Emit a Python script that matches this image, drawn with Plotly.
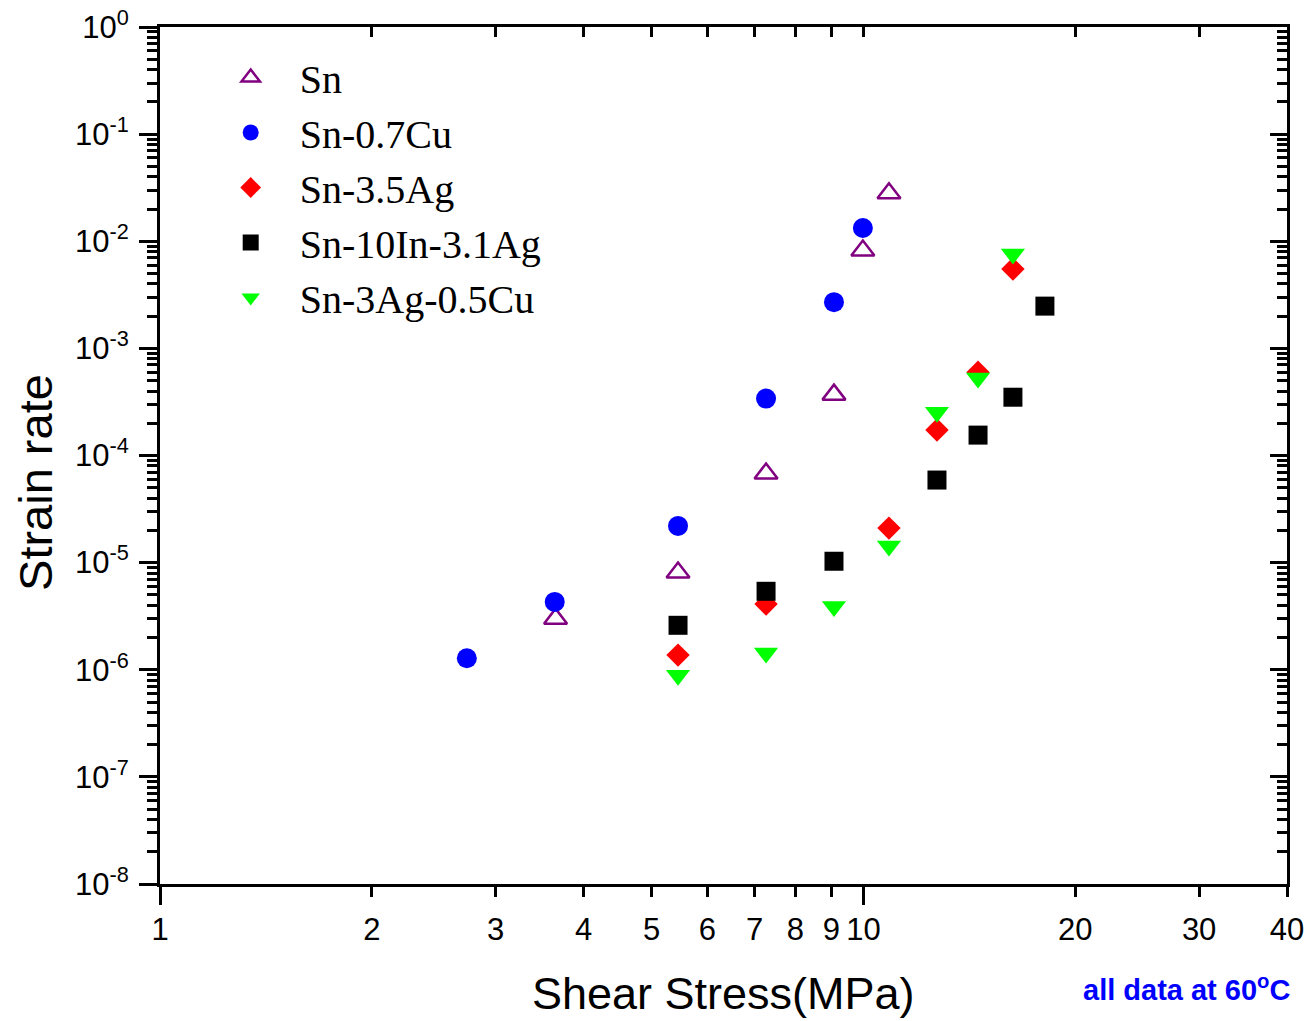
import plotly.graph_objects as go
import math

# ---- data ----
sn_x = [3.65, 5.45, 7.27, 9.08, 9.98, 10.87]
sn_y = [3.0e-6, 8.1e-6, 6.8e-5, 3.7e-4, 8.2e-3, 2.8e-2]

cu_x = [2.73, 3.64, 5.45, 7.27, 9.08, 9.98]
cu_y = [1.28e-6, 4.3e-6, 2.2e-5, 3.4e-4, 2.7e-3, 1.33e-2]

ag_x = [5.45, 7.27, 10.87, 12.72, 14.55, 16.31]
ag_y = [1.37e-6, 4.1e-6, 2.1e-5, 1.73e-4, 6.0e-4, 5.5e-3]

in_x = [5.45, 7.27, 9.08, 12.72, 14.55, 16.31, 18.11]
in_y = [2.6e-6, 5.4e-6, 1.03e-5, 5.9e-5, 1.55e-4, 3.5e-4, 2.48e-3]

sac_x = [5.45, 7.27, 9.08, 10.87, 12.72, 14.55, 16.31]
sac_y = [8.9e-7, 1.43e-6, 3.9e-6, 1.43e-5, 2.54e-4, 5.3e-4, 7.6e-3]

x_tick_vals = [1, 2, 3, 4, 5, 6, 7, 8, 9, 10, 20, 30, 40]
x_tick_text = ["1", "2", "3", "4", "5", "6", "7", "8", "9", "10", "20", "30", "40"]
y_exponents = [-8, -7, -6, -5, -4, -3, -2, -1, 0]
y_tick_vals = [10.0 ** e for e in y_exponents]
y_tick_text = ["10<sup>%d</sup>" % e for e in y_exponents]
y_minor_vals = [k * 10.0 ** e for e in range(-8, 0) for k in range(2, 10)]

X_RANGE = [0, math.log10(40)]
Y_RANGE = [-8, 0]

fig = go.Figure()

fig.add_trace(go.Scatter(x=sn_x, y=sn_y, mode="markers", name="Sn",
                         marker=dict(symbol="triangle-up-open", size=20, color="#800080",
                                     line=dict(width=2.5, color="#800080"))))
fig.add_trace(go.Scatter(x=cu_x, y=cu_y, mode="markers", name="Sn-0.7Cu",
                         marker=dict(symbol="circle", size=20, color="#0000ff")))
fig.add_trace(go.Scatter(x=ag_x, y=ag_y, mode="markers", name="Sn-3.5Ag",
                         marker=dict(symbol="diamond", size=18, color="#ff0000")))
fig.add_trace(go.Scatter(x=in_x, y=in_y, mode="markers", name="Sn-10In-3.1Ag",
                         marker=dict(symbol="square", size=19, color="#000000")))
fig.add_trace(go.Scatter(x=sac_x, y=sac_y, mode="markers", name="Sn-3Ag-0.5Cu",
                         marker=dict(symbol="triangle-down", size=21, color="#00ff00")))

# helper traces so the mirror axes get drawn
fig.add_trace(go.Scatter(x=[None], y=[None], xaxis="x2", yaxis="y2", showlegend=False,
                         hoverinfo="skip", mode="markers"))
fig.add_trace(go.Scatter(x=[None], y=[None], xaxis="x3", yaxis="y", showlegend=False,
                         hoverinfo="skip", mode="markers"))

tick_font = dict(family="Liberation Sans, Arial", size=31, color="black")

fig.update_layout(
    width=1309, height=1021,
    margin=dict(l=160, r=22, t=27, b=137),
    paper_bgcolor="white", plot_bgcolor="white",
    showlegend=True,
    legend=dict(x=0.037, y=0.979, xanchor="left", yanchor="top",
                font=dict(family="Liberation Serif, Times New Roman", size=40, color="black"),
                itemwidth=88, bgcolor="rgba(0,0,0,0)", tracegroupgap=0),
    xaxis=dict(type="log", range=X_RANGE, showgrid=False, zeroline=False, automargin=False,
               showline=True, linewidth=3, linecolor="black",
               ticks="outside", ticklen=10, tickwidth=2.5, tickcolor="black",
               tickmode="array", tickvals=x_tick_vals, ticktext=x_tick_text,
               tickfont=tick_font, ticklabelstandoff=6),
    xaxis2=dict(type="log", range=X_RANGE, overlaying="x", side="top", anchor="y2",
                automargin=False,
                showgrid=False, zeroline=False, showline=True, linewidth=3, linecolor="black",
                ticks="inside", ticklen=10, tickwidth=2.5, tickcolor="black",
                tickmode="array", tickvals=x_tick_vals, showticklabels=False),
    xaxis3=dict(type="log", range=X_RANGE, overlaying="x", side="bottom", anchor="y",
                automargin=False,
                showgrid=False, zeroline=False, showline=False,
                ticks="outside", ticklen=20, tickwidth=3, tickcolor="black",
                tickmode="array", tickvals=[1, 10], showticklabels=False),
    yaxis=dict(type="log", range=Y_RANGE, showgrid=False, zeroline=False, automargin=False,
               showline=True, linewidth=3, linecolor="black",
               ticks="outside", ticklen=18, tickwidth=2.5, tickcolor="black",
               tickmode="array", tickvals=y_tick_vals, ticktext=y_tick_text,
               tickfont=tick_font, ticklabelstandoff=4,
               minor=dict(tickmode="array", tickvals=y_minor_vals, ticks="outside",
                          ticklen=10, tickwidth=2.5, tickcolor="black", showgrid=False)),
    yaxis2=dict(type="log", range=Y_RANGE, overlaying="y", side="right", anchor="x2",
                automargin=False,
                showgrid=False, zeroline=False, showline=True, linewidth=3, linecolor="black",
                ticks="inside", ticklen=17, tickwidth=2.5, tickcolor="black",
                tickmode="array", tickvals=y_tick_vals, showticklabels=False,
                minor=dict(tickmode="array", tickvals=y_minor_vals, ticks="inside",
                           ticklen=10, tickwidth=2.5, tickcolor="black", showgrid=False)),
    annotations=[
        dict(text="Shear Stress(MPa)", xref="paper", yref="paper", x=0.5, y=-0.128,
             xanchor="center", yanchor="middle", showarrow=False,
             font=dict(family="Liberation Sans, Arial", size=45, color="black")),
        dict(text="Strain rate", xref="paper", yref="paper", x=-0.111, y=0.469,
             xanchor="center", yanchor="middle", textangle=-90, showarrow=False,
             font=dict(family="Liberation Sans, Arial", size=47, color="black")),
        dict(text="<b>all data at 60<sup>o</sup>C</b>", xref="paper", yref="paper",
             x=1.004, y=-0.121, xanchor="right", yanchor="middle", showarrow=False,
             font=dict(family="Liberation Sans, Arial", size=29, color="#0000ff")),
    ],
)

fig.write_html("out.html")
